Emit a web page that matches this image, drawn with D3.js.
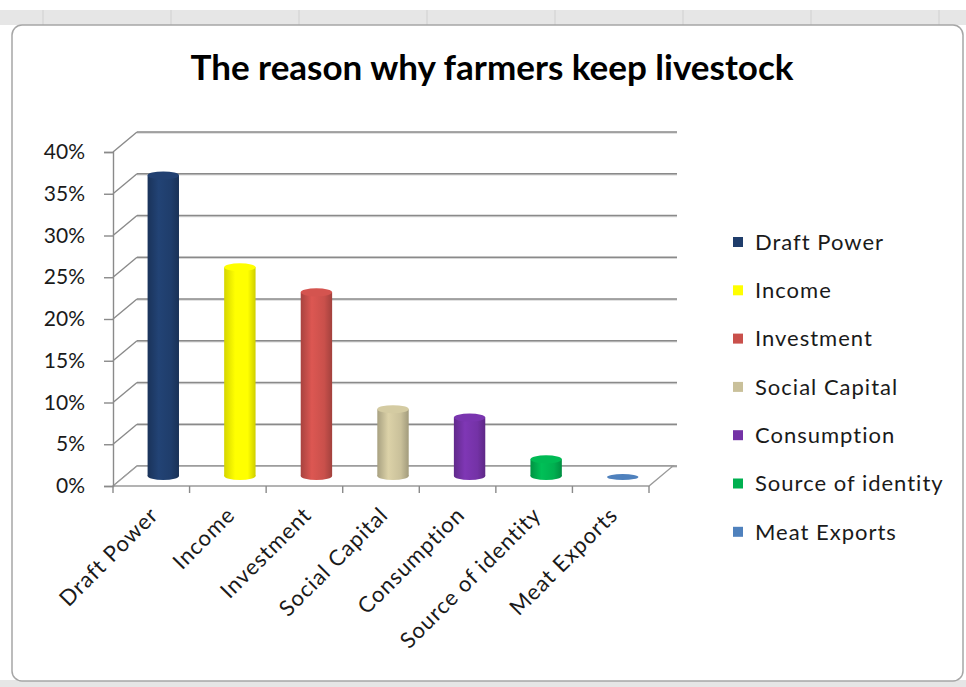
<!DOCTYPE html>
<html>
<head>
<meta charset="utf-8">
<script src="https://cdn.jsdelivr.net/npm/d3@7"></script>
<style>
  body { margin: 0; background: #fff; }
  text { font-family: Lato, "Open Sans", sans-serif; fill: #1a1a1a; }
</style>
</head>
<body>
<div id="chart"></div>
<script>
// Chart data
const categories = ["Draft Power", "Income", "Investment", "Social Capital", "Consumption", "Source of identity", "Meat Exports"];
const values = [36, 25, 22, 8, 7, 2, 0];
const colors = ["#1f3d6b", "#ffff00", "#c9504b", "#c9c09a", "#7432a6", "#00b050", "#4f81bd"];
const yTicks = [0, 5, 10, 15, 20, 25, 30, 35, 40];
const title = "The reason why farmers keep livestock";

const W = 966, H = 687;
// 3D depth offset of the back wall
const depth = { dx: 24, dy: -20 };

const svg = d3.select("#chart").append("svg").attr("width", W).attr("height", H);

// Spreadsheet header strips behind the chart
svg.append("rect").attr("x", 0).attr("y", 10).attr("width", W).attr("height", 15).attr("fill", "#e6e6e6");
svg.append("rect").attr("x", 0).attr("y", 680).attr("width", W).attr("height", 7).attr("fill", "#e6e6e6");
d3.range(43, W, 128).forEach((cx) => {
  svg.append("line").attr("x1", cx).attr("x2", cx).attr("y1", 10).attr("y2", 25).attr("stroke", "#d0d0d0");
});

// Chart frame
svg.append("rect")
  .attr("x", 12).attr("y", 25).attr("width", 951).attr("height", 656)
  .attr("rx", 10)
  .attr("fill", "#fff").attr("stroke", "#a6a6a6").attr("stroke-width", 1.5);

// Title
svg.append("text")
  .attr("x", 492).attr("y", 80)
  .attr("text-anchor", "middle")
  .style("font-size", "35px").style("font-weight", "bold").style("fill", "#000")
  .text(title);

// Scales
const x = d3.scaleBand().domain(categories).range([113, 649]);
const y = d3.scaleLinear().domain([0, 40]).range([486, 152]);

// Back wall grid lines and left wall diagonals
const grid = svg.append("g");
yTicks.forEach((t) => {
  const yf = y(t), yb = y(t) + depth.dy;
  grid.append("line")
    .attr("x1", 113 + depth.dx).attr("x2", 649 + depth.dx + 4)
    .attr("y1", yb + 1).attr("y2", yb + 1)
    .attr("stroke", "#d8d8d8").attr("stroke-width", 1.5);
  grid.append("line")
    .attr("x1", 113 + depth.dx).attr("x2", 649 + depth.dx + 4)
    .attr("y1", yb).attr("y2", yb)
    .attr("stroke", "#8a8a8a").attr("stroke-width", 1.4);
  grid.append("line")
    .attr("x1", 113).attr("x2", 113 + depth.dx)
    .attr("y1", yf).attr("y2", yb)
    .attr("stroke", "#8a8a8a").attr("stroke-width", 1.4);
});

// Floor outline
const floorPts = [[113, y(0)], [649, y(0)], [649 + depth.dx, y(0) + depth.dy], [113 + depth.dx, y(0) + depth.dy]];
svg.append("path")
  .attr("d", d3.line()(floorPts) + "Z")
  .attr("fill", "#fff").attr("stroke", "#9a9a9a").attr("stroke-width", 1.3);

// Y axis
const yAxis = svg.append("g")
  .attr("transform", "translate(113,0)")
  .call(d3.axisLeft(y).tickValues(yTicks).tickSize(9).tickPadding(19).tickFormat((d) => d + "%"));
yAxis.selectAll("path, line").attr("stroke", "#8a8a8a").attr("stroke-width", 1.4);
yAxis.selectAll("text").style("font-size", "21px").style("font-family", "Lato, sans-serif").attr("fill", "#1a1a1a");

// X axis ticks at category boundaries
const bounds = categories.map((c) => x(c)).concat([x(categories[categories.length - 1]) + x.bandwidth()]);
svg.append("g").selectAll("line").data(bounds).join("line")
  .attr("x1", (d) => d).attr("x2", (d) => d)
  .attr("y1", y(0)).attr("y2", y(0) + 7)
  .attr("stroke", "#8a8a8a").attr("stroke-width", 1.4);

// X labels, rotated
svg.append("g").selectAll("text").data(categories).join("text")
  .attr("transform", (d) => `translate(${x(d) + x.bandwidth() / 2 + 3},${y(0) + 25}) rotate(-45)`)
  .attr("text-anchor", "end")
  .attr("dy", "0.35em")
  .style("font-size", "22px")
  .style("letter-spacing", "1px")
  .text((d) => d);

// Cylinder gradients
const defs = svg.append("defs");
colors.forEach((c, i) => {
  const g = defs.append("linearGradient").attr("id", "cyl" + i).attr("x1", "0%").attr("x2", "100%");
  const base = d3.color(c);
  g.append("stop").attr("offset", "0%").attr("stop-color", base.darker(0.5));
  g.append("stop").attr("offset", "35%").attr("stop-color", base.brighter(0.25));
  g.append("stop").attr("offset", "75%").attr("stop-color", base);
  g.append("stop").attr("offset", "100%").attr("stop-color", base.darker(0.6));
});

// Cylinders sit at mid depth
const barW = x.bandwidth() * 0.41;
const ry = 4;
const bars = svg.append("g").selectAll("g").data(categories).join("g");
bars.each(function (d, i) {
  const g = d3.select(this);
  const cx = x(d) + x.bandwidth() / 2 + depth.dx / 2;
  const yBase = y(0) + depth.dy / 2;
  const yTop = y(values[i]) + depth.dy / 2;
  if (values[i] > 0) {
    g.append("ellipse")
      .attr("cx", cx).attr("cy", yBase).attr("rx", barW / 2).attr("ry", ry)
      .attr("fill", `url(#cyl${i})`);
    g.append("rect")
      .attr("x", cx - barW / 2).attr("y", yTop)
      .attr("width", barW).attr("height", yBase - yTop)
      .attr("fill", `url(#cyl${i})`);
    g.append("ellipse")
      .attr("cx", cx).attr("cy", yTop).attr("rx", barW / 2).attr("ry", ry)
      .attr("fill", d3.color(colors[i]).brighter(0.15));
  } else {
    g.append("ellipse")
      .attr("cx", cx).attr("cy", yBase + 1).attr("rx", barW / 2).attr("ry", 3)
      .attr("fill", colors[i]);
  }
});

// Legend
const legend = svg.append("g").selectAll("g").data(categories).join("g")
  .attr("transform", (d, i) => `translate(733,${242 + i * 48.3})`);
legend.append("rect")
  .attr("x", 0).attr("y", -5).attr("width", 10).attr("height", 10)
  .attr("fill", (d, i) => colors[i]);
legend.append("text")
  .attr("x", 22).attr("dy", "0.35em")
  .style("font-size", "22px")
  .style("letter-spacing", "1px")
  .text((d) => d);
</script>
</body>
</html>
